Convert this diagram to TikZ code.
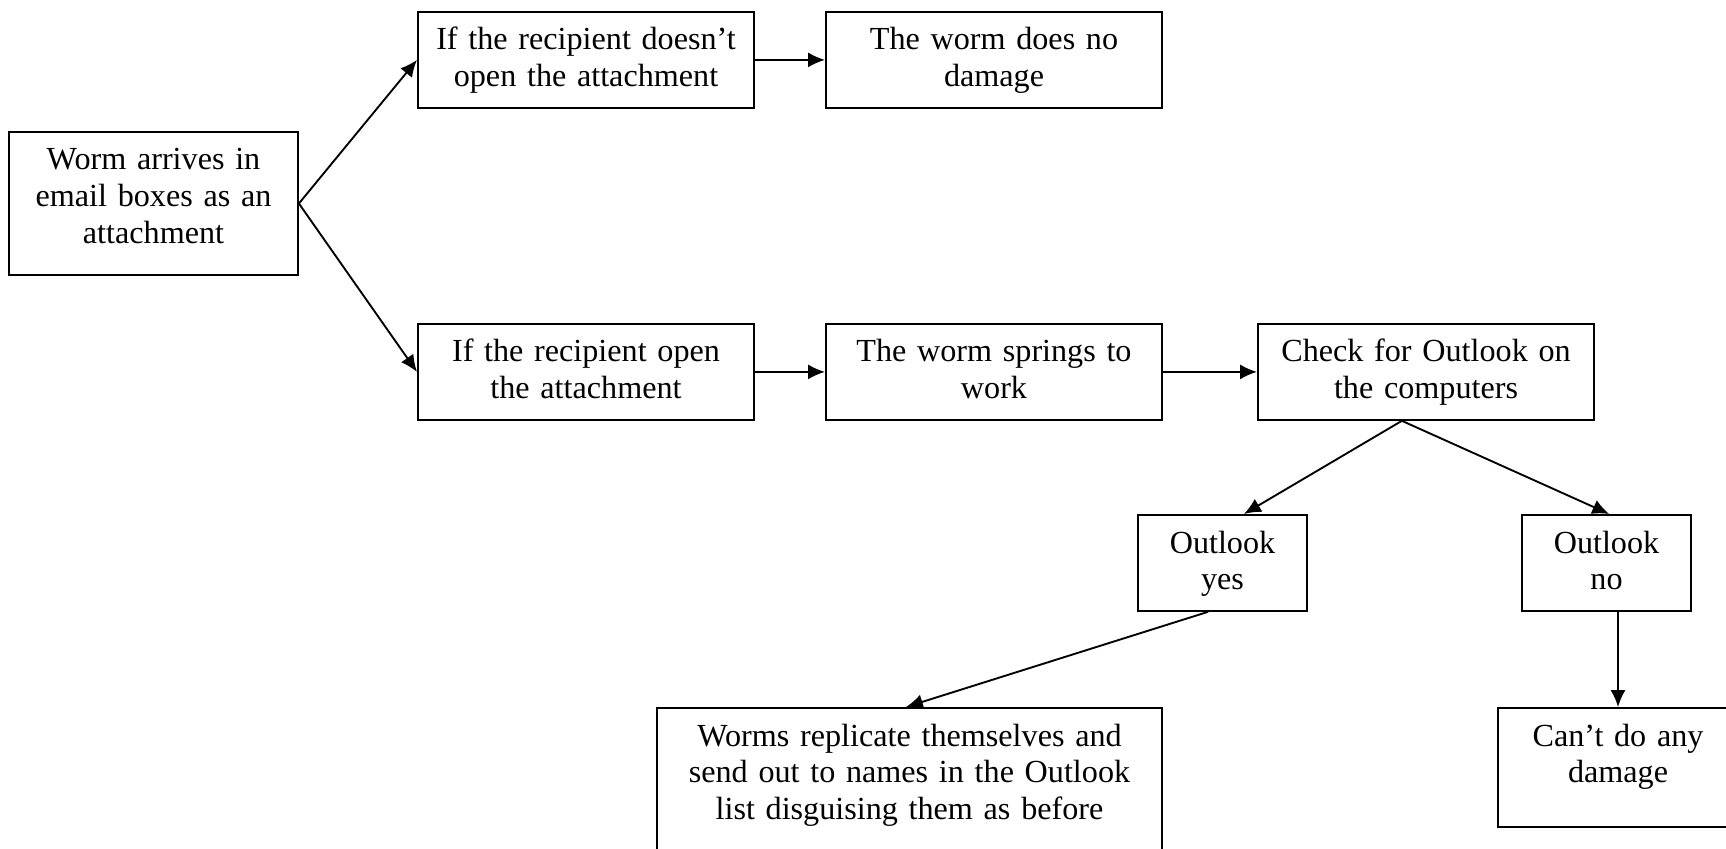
\documentclass[tikz,border=0pt]{standalone}
\usepackage{fontspec}
\setmainfont{Liberation Serif}
\usepackage{tikz}
\usetikzlibrary{arrows.meta}
\tikzset{>={Latex[length=6.3pt,width=5.6pt]}}
\tikzset{box/.style = {shape=rectangle,draw,line width=0.7pt,align=center,anchor=north,inner xsep=2pt,inner ysep=5.7pt,text height=8.5pt,font=\fontsize{12}{13.8}\selectfont}}
\begin{document}
\begin{tikzpicture}[x=0.3731pt,y=-0.3731pt,line width=0.7pt]
                \useasboundingbox (0,0) rectangle (1726,849);

                \node[box, text width=103.8pt, text depth=33.5pt] (worm) at (153.5,131) {Worm arrives in\\ email boxes as an\\ attachment};
                \node[box, text width=121.4pt, text depth=15.9pt] (nopen) at (586,11) {If the recipient doesn’t\\ open the attachment};
                \node[box, text width=121.4pt, text depth=15.9pt] (nodmg) at (994,11) {The worm does no\\ damage};
                \node[box, text width=121.4pt, text depth=15.9pt] (opened) at (586,323) {If the recipient open\\ the attachment};
                \node[box, text width=121.4pt, text depth=15.9pt] (springs) at (994,323) {The worm springs to\\ work};
                \node[box, text width=121.4pt, text depth=15.9pt] (check) at (1426,323) {Check for Outlook on\\ the computers};
                \node[box, text width=59.1pt, text depth=15.9pt] (yes) at (1222.5,514) {Outlook\\ yes};
                \node[box, text width=59.1pt, text depth=15.9pt] (no) at (1606.5,514) {Outlook\\ no};
                \node[box, text width=184.4pt, text depth=80pt] (repl) at (909.5,707) {Worms replicate themselves and\\ send out to names in the Outlook\\ list disguising them as before};
                \node[box, text width=85.5pt, text depth=24.5pt] (cant) at (1618,707) {Can’t do any\\ damage};

                \draw[->] (worm.east) -- (nopen.west);
                \draw[->] (worm.east) -- (opened.west);
                \draw[->] (nopen) -- (nodmg);
                \draw[->] (opened) -- (springs);
                \draw[->] (springs) -- (check);
                \draw[->] ([xshift=-9pt]check.south) -- ([xshift=8pt]yes.north);
                \draw[->] ([xshift=-9pt]check.south) -- ([xshift=1pt]no.north);
                \draw[->] ([xshift=-5.4pt]yes.south) -- ([xshift=-1.3pt]repl.north);
                \draw[->] (cant.north |- no.south) -- (cant.north);
            \end{tikzpicture}
\end{document}
